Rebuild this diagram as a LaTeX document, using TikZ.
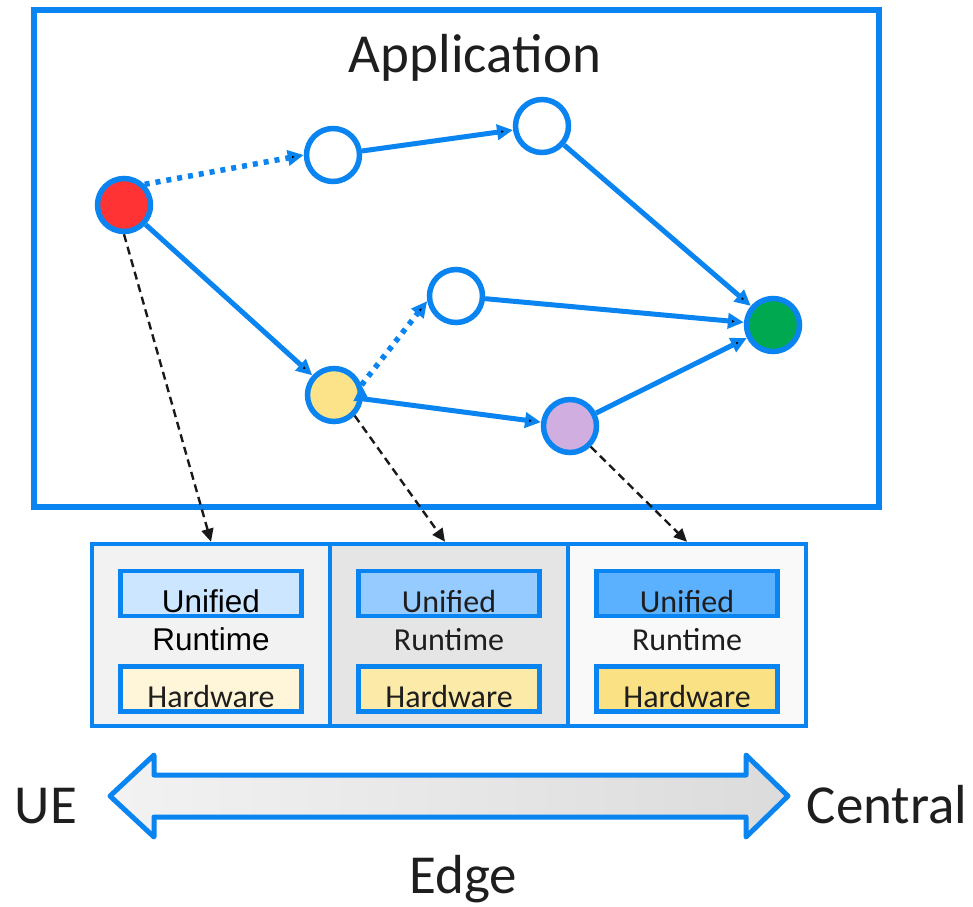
\documentclass[tikz,border=0pt]{standalone}
\usepackage{fontspec}
\setmainfont{Carlito}
\newfontfamily\arialfont{Liberation Sans}
\usepackage{xcolor}
\usetikzlibrary{automata,positioning,arrows,arrows.meta}
\definecolor{eblue}{HTML}{0A84F0}
\definecolor{cred}{HTML}{FF3333}
\definecolor{cyellow}{HTML}{FCE38A}
\definecolor{cpurple}{HTML}{D0AEE0}
\definecolor{cgreen}{HTML}{00A94F}
\definecolor{txt}{HTML}{1E1E1E}

\begin{document}
\begin{tikzpicture}[x=1pt,y=-1pt,>={Triangle[length=16pt,width=15pt]},
	every state/.style={draw=eblue,line width=5.5pt,fill=white,minimum size=53pt,inner sep=0pt},
	flow/.style={->,draw=eblue,line width=5pt},
	dots/.style={flow,line width=5.5pt,dash pattern=on 5pt off 6pt},
	map/.style={-{Triangle[length=13pt,width=12pt]},draw=black!90,line width=2.4pt,dash pattern=on 8pt off 5pt},
	panel/.style={draw=eblue,line width=4.5pt,minimum width=238pt,minimum height=182pt,inner sep=0pt},
	ubox/.style={draw=eblue,line width=4.5pt,minimum width=181pt,minimum height=45pt,inner sep=0pt},
	big/.style={font=\fontsize{55}{60}\selectfont,text=txt,anchor=base},
	small/.style={font=\fontsize{32}{36}\selectfont,text=txt,anchor=base},
	arial/.style={font=\arialfont\fontsize{31.5}{36}\selectfont,text=black,anchor=base}]

	\useasboundingbox (0,0) rectangle (973,906);

	% application graph
	\node[draw=eblue,line width=5.5pt,minimum width=845pt,minimum height=497pt] (app) at (456.5,258.5) {};
	\node[big] (title) at (475,72) {Application};

	\node[state,fill=cred] (r) at (124,205) {};
	\node[state] (w1) at (333,155) {};
	\node[state] (w2) at (542,126) {};
	\node[state] (w3) at (456,296) {};
	\node[state,fill=cyellow] (y) at (334,395) {};
	\node[state,fill=cpurple] (p) at (570,426) {};
	\node[state,fill=cgreen] (g) at (773,325) {};

	\draw[flow] (r) edge (y)
			(w1) edge (w2)
			(w2) edge (g)
			(w3) edge (g)
			(y) edge (p)
			(p) edge (g);
	\draw[dots] (r.45) edge (w1.west)
			(y.20) edge (w3.190);

	% runtimes
	\node[panel,fill=black!5] (pan1) at (211,635) {};
	\node[panel,fill=black!10] (pan2) at (449,635) {};
	\node[panel,fill=black!2.5] (pan3) at (687,635) {};

	\node[ubox,fill={rgb,255:red,204;green,230;blue,255},below=27pt of pan1.north] (u1) {};
	\node[ubox,fill={rgb,255:red,150;green,203;blue,255},below=27pt of pan2.north] (u2) {};
	\node[ubox,fill={rgb,255:red,92;green,177;blue,255},below=27pt of pan3.north] (u3) {};
	\node[ubox,fill={rgb,255:red,255;green,245;blue,216},below=46pt of u1] (h1) {};
	\node[ubox,fill={rgb,255:red,252;green,235;blue,168},below=46pt of u2] (h2) {};
	\node[ubox,fill={rgb,255:red,250;green,226;blue,132},below=46pt of u3] (h3) {};

	\node[arial] at ([yshift=6pt]u1.south) {Unified};
	\node[arial] at ([yshift=-32pt]u1.south) {Runtime};
	\node[small] at ([yshift=6pt]h1.south) {Hardware};
	\node[small] at ([yshift=6pt]u2.south) {Unified};
	\node[small] at ([yshift=-32pt]u2.south) {Runtime};
	\node[small] at ([yshift=6pt]h2.south) {Hardware};
	\node[small] at ([yshift=6pt]u3.south) {Unified};
	\node[small] at ([yshift=-32pt]u3.south) {Runtime};
	\node[small] at ([yshift=6pt]h3.south) {Hardware};

	\draw[map] (r.south) -- (pan1.north);
	\draw[map] (y.-45) -- ([xshift=-4pt]pan2.north);
	\draw[map] (p.-45) -- (pan3.north);

	% ue - central
	\draw[eblue,line width=5pt,line join=round,left color=black!5,right color=black!14]
		(110,796) -- (154,755) -- (154,775) -- (746,775) -- (746,755) -- (788,796)
		-- (746,837) -- (746,817) -- (154,817) -- (154,837) -- cycle;
	\node[big] (ue) at (46,823) {UE};
	\node[big] (central) at (887,823) {Central};
	\node[big] (edge) at (463,893) {Edge};
\end{tikzpicture}
\end{document}
